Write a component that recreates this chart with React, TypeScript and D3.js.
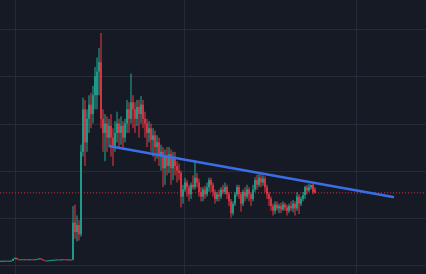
import React from "react";
import * as d3 from "d3";

// OHLC candles [open, high, low, close]
const candles: [number, number, number, number][] = [
  [0.85, 0.95, 0.8, 0.85], [0.85, 0.95, 0.8, 0.85], [0.85, 0.95, 0.8, 0.9], [0.9, 0.95, 0.8, 0.85],
  [0.85, 0.95, 0.8, 0.88], [0.88, 1.0, 0.85, 0.9], [0.9, 1.35, 0.85, 1.3], [1.3, 1.6, 1.2, 1.5],
  [1.5, 1.55, 1.15, 1.2], [1.2, 1.25, 1.1, 1.15], [1.15, 1.25, 1.1, 1.2], [1.2, 1.25, 1.1, 1.15],
  [1.15, 1.25, 1.1, 1.2], [1.2, 1.25, 1.1, 1.15], [1.15, 1.25, 1.1, 1.2], [1.2, 1.25, 1.15, 1.2],
  [1.2, 1.25, 1.1, 1.15], [1.15, 1.25, 1.1, 1.2], [1.2, 1.3, 1.15, 1.25], [1.25, 1.45, 1.2, 1.4],
  [1.4, 1.45, 1.15, 1.2], [1.2, 1.25, 0.95, 1.0], [1.0, 1.05, 0.9, 0.95], [0.95, 1.0, 0.9, 0.95],
  [0.95, 1.05, 0.9, 1.0], [1.0, 1.1, 0.95, 1.05], [1.05, 1.15, 1.0, 1.1], [1.1, 1.15, 1.05, 1.1],
  [1.1, 1.2, 1.05, 1.15], [1.15, 1.2, 1.05, 1.1], [1.1, 1.2, 1.05, 1.15], [1.15, 1.25, 1.1, 1.2],
  [1.2, 1.25, 1.1, 1.15], [1.15, 1.2, 1.05, 1.1], [1.1, 1.2, 1.05, 1.15], [1.15, 1.2, 1.05, 1.1],
  [1.1, 12.5, 1.0, 9.0], [9.0, 12.8, 5.5, 7.0], [7.0, 10.5, 5.0, 8.5], [8.5, 9.5, 5.2, 6.5],
  [6.5, 25.5, 6.0, 24.0], [24.0, 35.5, 23.0, 33.0], [33.0, 35.0, 21.0, 26.0], [26.0, 33.0, 24.0, 31.0],
  [31.0, 36.0, 28.0, 34.0], [34.0, 36.5, 29.0, 32.0], [32.0, 38.0, 30.0, 36.0], [36.0, 42.0, 33.0, 40.0],
  [36.0, 44.0, 33.0, 41.0], [41.0, 46.0, 36.0, 43.0], [43.0, 49.2, 29.0, 31.0], [31.0, 33.0, 24.0, 28.0],
  [28.0, 32.0, 22.0, 30.0], [30.0, 31.5, 24.0, 27.0], [27.0, 31.0, 25.0, 29.5], [29.5, 32.0, 23.0, 27.0],
  [27.0, 29.0, 21.0, 25.0], [25.0, 30.5, 24.0, 28.0], [28.0, 32.5, 26.0, 30.0], [30.0, 31.0, 25.0, 28.0],
  [28.0, 31.5, 25.5, 29.5], [29.5, 30.5, 24.5, 27.0], [27.0, 31.0, 26.0, 30.0], [30.0, 35.0, 28.0, 33.0],
  [33.0, 34.5, 28.0, 31.0], [31.0, 40.6, 30.0, 34.5], [34.5, 36.0, 29.0, 33.0], [33.0, 34.5, 28.0, 31.0],
  [31.0, 35.0, 29.5, 33.5], [33.5, 35.0, 27.0, 32.0], [32.0, 35.8, 30.0, 34.0], [34.0, 35.0, 29.0, 31.0],
  [31.0, 32.5, 27.0, 30.0], [30.0, 31.0, 25.0, 28.0], [28.0, 30.5, 26.0, 29.0], [29.0, 30.0, 24.0, 26.5],
  [26.5, 29.0, 23.0, 27.5], [27.5, 28.5, 22.0, 25.0], [25.0, 27.5, 22.5, 26.0], [26.0, 27.0, 21.0, 23.0],
  [23.0, 25.5, 20.0, 24.0], [24.0, 25.0, 16.5, 20.5], [20.5, 24.5, 17.0, 23.0], [23.0, 25.0, 19.0, 21.0],
  [21.0, 25.0, 19.5, 23.5], [23.5, 24.5, 17.0, 20.5], [20.5, 24.0, 18.0, 22.5], [22.5, 24.0, 19.0, 21.0],
  [21.0, 22.0, 17.5, 20.0], [20.0, 21.5, 18.0, 19.5], [19.5, 20.0, 12.2, 14.5], [14.5, 17.0, 13.0, 16.0],
  [16.0, 18.5, 15.5, 17.5], [17.5, 18.0, 14.5, 16.5], [16.5, 17.0, 13.5, 15.0], [15.0, 17.5, 14.0, 17.0],
  [17.0, 19.0, 16.0, 16.5], [16.5, 22.2, 16.0, 18.5], [18.5, 19.5, 16.5, 17.5], [17.5, 18.3, 14.5, 15.5],
  [15.5, 16.5, 13.5, 14.5], [14.5, 16.5, 13.5, 16.0], [16.0, 16.8, 14.0, 15.0], [15.0, 17.5, 14.5, 16.5],
  [16.5, 18.5, 15.5, 18.0], [18.0, 18.5, 15.5, 17.0], [17.0, 17.5, 14.5, 15.5], [15.5, 16.0, 13.0, 14.0],
  [14.0, 15.5, 13.5, 15.0], [15.0, 16.0, 13.5, 14.5], [14.5, 16.5, 14.0, 16.0], [16.0, 17.0, 15.0, 15.5],
  [15.5, 17.5, 15.0, 16.5], [16.5, 17.0, 14.0, 15.0], [15.0, 15.5, 12.5, 13.5], [13.5, 14.0, 10.0, 11.0],
  [11.0, 13.5, 10.5, 13.0], [13.0, 15.5, 12.5, 15.0], [15.0, 17.0, 14.5, 16.5], [16.5, 17.0, 14.0, 15.0],
  [15.0, 15.5, 11.3, 13.0], [13.0, 16.0, 12.5, 15.5], [15.5, 16.5, 13.5, 14.5], [14.5, 17.0, 14.0, 16.0],
  [16.0, 16.5, 13.5, 15.0], [15.0, 15.5, 12.5, 14.0], [14.0, 17.0, 13.5, 16.0], [16.0, 18.6, 15.5, 18.0],
  [18.0, 19.1, 16.0, 17.0], [17.0, 19.3, 16.5, 18.5], [18.5, 19.2, 16.5, 17.5], [17.5, 19.0, 16.8, 18.3],
  [18.3, 18.8, 15.5, 16.5], [16.5, 17.0, 14.0, 15.0], [15.0, 15.5, 12.5, 14.0], [14.0, 14.5, 11.5, 12.5],
  [12.5, 13.0, 10.5, 11.5], [11.5, 13.5, 10.8, 12.8], [12.8, 13.5, 11.5, 12.0], [12.0, 13.0, 11.0, 12.5],
  [12.5, 13.2, 11.0, 11.8], [11.8, 13.5, 11.5, 12.8], [12.8, 13.2, 11.5, 12.2], [12.2, 12.8, 10.5, 11.5],
  [11.5, 13.0, 11.0, 12.5], [12.5, 13.5, 11.5, 12.0], [12.0, 13.8, 11.2, 13.0], [13.0, 13.5, 10.5, 12.0],
  [12.0, 15.5, 11.5, 14.5], [14.5, 15.0, 10.8, 13.0], [13.0, 14.5, 12.5, 14.0], [14.0, 15.5, 13.5, 14.8],
  [14.8, 16.8, 14.0, 16.5], [16.5, 17.0, 15.0, 15.8], [15.8, 17.2, 15.5, 16.5], [16.5, 17.0, 16.0, 17.0],
  [17.0, 17.2, 15.0, 15.5], [16.0, 16.5, 15.2, 15.3],
];

const priceGrid = [0, 10, 20, 30, 40, 50];
const timeGrid = [7, 91.5, 177.5];
const lastPrice = 15.3;
// trend line: [index, price]
const trendLine: [number, number][] = [[54.5, 25.2], [196, 14.4]];

const W = 426;
const H = 274;
const BG = "#161a25";
const GRID = "#262a36";
const UP = "#22ab94";
const DOWN = "#f23645";

export default function App() {
  const x = d3.scaleLinear().domain([0, 1]).range([1, 3]);
  const y = d3.scaleLinear().domain([0, 50]).range([265, 29.2]);
  const bodyW = 1.5;
  const line = d3
    .line<[number, number]>()
    .x((d) => x(d[0]))
    .y((d) => y(d[1]));

  return (
    <svg
      width={W}
      height={H}
      style={{ position: "fixed", left: 0, top: 0, display: "block" }}
    >
      <rect x={0} y={0} width={W} height={H} fill={BG} />
      {priceGrid.map((p) => (
        <line key={"h" + p} x1={0} x2={W} y1={Math.round(y(p)) + 0.5} y2={Math.round(y(p)) + 0.5} stroke={GRID} strokeWidth={1} />
      ))}
      {timeGrid.map((t) => (
        <line key={"v" + t} y1={0} y2={H} x1={Math.round(x(t)) + 0.5} x2={Math.round(x(t)) + 0.5} stroke={GRID} strokeWidth={1} />
      ))}
      <line
        x1={0}
        x2={W}
        y1={y(lastPrice)}
        y2={y(lastPrice)}
        stroke={DOWN}
        strokeOpacity={0.85}
        strokeWidth={1}
        strokeDasharray="1 2"
      />
      {candles.map((c, i) => {
        const [o, h, l, cl] = c;
        const col = cl >= o ? UP : DOWN;
        const cx = x(i);
        const top = y(Math.max(o, cl));
        const bot = y(Math.min(o, cl));
        return (
          <g key={i}>
            <line x1={cx} x2={cx} y1={y(h)} y2={y(l)} stroke={col} strokeWidth={1} />
            <rect x={cx - bodyW / 2} y={top} width={bodyW} height={Math.max(1, bot - top)} fill={col} />
          </g>
        );
      })}
      <path d={line(trendLine) || ""} stroke="#3a6ee8" strokeWidth={2.5} fill="none" strokeLinecap="round" />
    </svg>
  );
}
